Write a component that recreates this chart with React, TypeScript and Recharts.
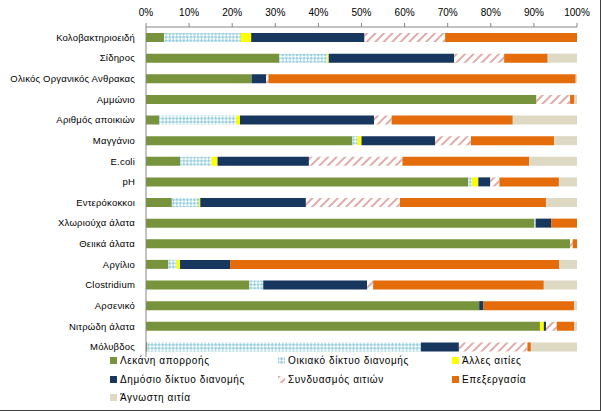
import { BarChart, Bar, XAxis, YAxis } from "recharts";

const categories = [
  "Κολοβακτηριοειδή",
  "Σίδηρος",
  "Ολικός Οργανικός Ανθρακας",
  "Αμμώνιο",
  "Αριθμός αποικιών",
  "Μαγγάνιο",
  "E.coli",
  "pH",
  "Εντερόκοκκοι",
  "Χλωριούχα άλατα",
  "Θειικά άλατα",
  "Αργίλιο",
  "Clostridium",
  "Αρσενικό",
  "Νιτρώδη άλατα",
  "Μόλυβδος",
];

const basin = [4.2, 30.9, 24.5, 90.6, 3.1, 47.9, 7.9, 74.8, 6.0, 90.1, 98.4, 5.2, 24.0, 77.3, 91.4, 0.3];
const household = [17.8, 11.2, 0, 0, 17.8, 1.2, 7.3, 0.8, 6.3, 0.3, 0, 1.9, 3.2, 0, 0, 63.5];
const otherCauses = [2.4, 0.3, 0, 0, 0.9, 0.9, 1.4, 1.5, 0.3, 0, 0, 0.8, 0, 0, 0.9, 0];
const publicNet = [26.3, 29.1, 3.4, 0, 31.1, 17.1, 21.2, 2.8, 24.5, 3.6, 0, 11.6, 24.1, 1.0, 0.5, 8.8];
const combined = [18.7, 11.6, 0.5, 7.8, 4.1, 8.3, 21.7, 2.1, 21.8, 0, 0.6, 0, 1.4, 0, 2.5, 15.9];
const treatment = [30.6, 10.1, 71.3, 1.0, 28.1, 19.3, 29.4, 13.8, 33.9, 6.0, 1.0, 76.4, 39.6, 21.0, 4.1, 0.8];
const unknown = [0, 6.8, 0.3, 0.6, 14.9, 5.3, 11.1, 4.2, 7.2, 0, 0, 4.1, 7.7, 0.7, 0.6, 10.7];

const xTicks = [0, 10, 20, 30, 40, 50, 60, 70, 80, 90, 100];

const series = [
  { key: "basin", name: "Λεκάνη απορροής", fill: "#77933C" },
  { key: "household", name: "Οικιακό δίκτυο διανομής", fill: "url(#checker)" },
  { key: "other", name: "Άλλες αιτίες", fill: "#FFFF00" },
  { key: "public", name: "Δημόσιο δίκτυο διανομής", fill: "#17375E" },
  { key: "combined", name: "Συνδυασμός αιτιών", fill: "url(#hatch)" },
  { key: "treatment", name: "Επεξεργασία", fill: "#E46C0A" },
  { key: "unknown", name: "Άγνωστη αιτία", fill: "#DDD9C3" },
];

const data = categories.map((name, i) => ({
  name,
  basin: basin[i],
  household: household[i],
  other: otherCauses[i],
  public: publicNet[i],
  combined: combined[i],
  treatment: treatment[i],
  unknown: unknown[i],
}));

const font = "'Liberation Sans', Arial, sans-serif";

function Patterns() {
  return (
    <defs>
      <pattern id="checker" width="5" height="5" patternUnits="userSpaceOnUse" patternTransform="rotate(45)">
        <rect width="5" height="5" fill="#ffffff" />
        <rect width="2.5" height="2.5" fill="#93CDDD" />
        <rect x="2.5" y="2.5" width="2.5" height="2.5" fill="#93CDDD" />
      </pattern>
      <pattern id="hatch" width="6" height="6" patternUnits="userSpaceOnUse" patternTransform="rotate(45)">
        <rect width="6" height="6" fill="#ffffff" />
        <line x1="1" y1="0" x2="1" y2="6" stroke="#D99694" strokeWidth="1.6" />
      </pattern>
    </defs>
  );
}

// plain text tick so long names don't wrap
function CatTick(props: any) {
  const { x, y, payload } = props;
  return (
    <text
      x={x}
      y={y}
      dy={3.5}
      textAnchor="end"
      fontSize={9.5}
      fill="#000"
      fontFamily={font}
      letterSpacing={0.2}
    >
      {payload.value}
    </text>
  );
}

// legend laid out like Excel: 3 columns
const legendCols = [110, 278, 452];
const legendRows = [360, 379, 397];

export default function App() {
  return (
    <div
      style={{
        position: "absolute",
        left: 0,
        top: 0,
        width: 600,
        height: 410,
        background: "#fff",
        borderRight: "1px solid #404040",
        borderBottom: "1px solid #404040",
        fontFamily: font,
      }}
    >
      <BarChart
        width={600}
        height={410}
        data={data}
        layout="vertical"
        barSize={9}
        margin={{ top: 1, right: 23, bottom: 53, left: 0 }}
      >
        <Patterns />
        <XAxis
          type="number"
          orientation="top"
          domain={[0, 100]}
          ticks={xTicks}
          tickFormatter={(v: number) => `${v}%`}
          height={26}
          tickSize={4}
          tickMargin={7}
          stroke="#868686"
          tick={{ fontSize: 10, fill: "#000", fontFamily: font }}
          interval={0}
        />
        <YAxis
          type="category"
          dataKey="name"
          width={146}
          tickLine={false}
          tickMargin={5}
          stroke="#868686"
          tick={<CatTick />}
          interval={0}
        />
        {series.map((s) => (
          <Bar key={s.key} dataKey={s.key} name={s.name} stackId="a" fill={s.fill} isAnimationActive={false} />
        ))}
      </BarChart>
      {series.map((s, i) => {
        const col = i % 3;
        const row = Math.floor(i / 3);
        return (
          <div
            key={s.key}
            style={{
              position: "absolute",
              left: legendCols[col],
              top: legendRows[row] - 7,
              height: 14,
              display: "flex",
              alignItems: "center",
              fontSize: 10,
              letterSpacing: 0.6,
              color: "#000",
              whiteSpace: "nowrap",
            }}
          >
            <svg width={7} height={7} style={{ marginRight: 3 }}>
              <rect width={7} height={7} fill={s.fill} />
            </svg>
            {s.name}
          </div>
        );
      })}
    </div>
  );
}
